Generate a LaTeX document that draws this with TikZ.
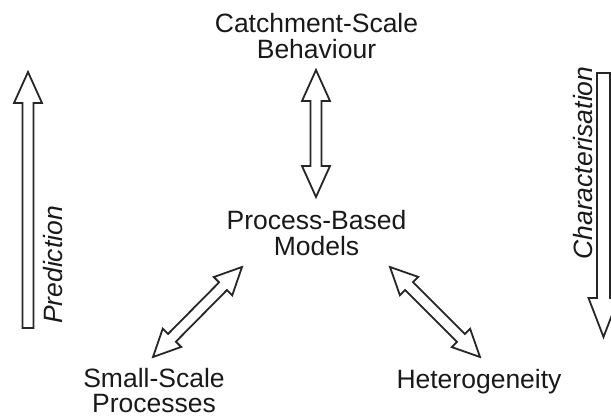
\documentclass[tikz,border=0pt]{standalone}
\usepackage{fontspec}
\setmainfont{Liberation Sans}
\usetikzlibrary{calc}

% hollow block arrows between two named points
\def\hl{31pt}\def\hw{14pt}\def\sw{5.5pt}
\newcommand{\twoway}[2]{%
  \draw[blockarrow] (#1) -- ($(#1)!\hl!(#2)!\hw!90:(#2)$) -- ($(#1)!\hl!(#2)!\sw!90:(#2)$)
    -- ($(#2)!\hl!(#1)!\sw!-90:(#1)$) -- ($(#2)!\hl!(#1)!\hw!-90:(#1)$) -- (#2)
    -- ($(#2)!\hl!(#1)!\hw!90:(#1)$) -- ($(#2)!\hl!(#1)!\sw!90:(#1)$)
    -- ($(#1)!\hl!(#2)!\sw!-90:(#2)$) -- ($(#1)!\hl!(#2)!\hw!-90:(#2)$) -- cycle;}
\newcommand{\oneway}[2]{%
  \draw[blockarrow] ($(#1)!\sw!90:(#2)$) -- ($(#2)!\hl!(#1)!\sw!-90:(#1)$)
    -- ($(#2)!\hl!(#1)!\hw!-90:(#1)$) -- (#2) -- ($(#2)!\hl!(#1)!\hw!90:(#1)$)
    -- ($(#2)!\hl!(#1)!\sw!90:(#1)$) -- ($(#1)!\sw!-90:(#2)$) -- cycle;}

\begin{document}
\begin{tikzpicture}[x=1pt,y=-1pt]
  \tikzset{
    blockarrow/.style={draw=black!85,line width=1.8pt,line join=miter,fill=white},
    every node/.style={inner sep=0pt,text=black!90,align=center,
      font=\fontsize{26.5}{25.5}\selectfont}
  }
  \useasboundingbox (0,0) rectangle (611,417);

  \node (catch) at (316.5,36) {Catchment-Scale\\Behaviour};
  \node (model) at (316.5,233) {Process-Based\\Models};
  \node (small) at (154,390.5) {Small-Scale\\Processes};
  \node[anchor=base] (hetero) at (479,388) {Heterogeneity};
  \node[anchor=base,rotate=90,font=\fontsize{26.5}{25.5}\selectfont\itshape] (pred) at (62,265) {Prediction};
  \node[anchor=base,rotate=90,font=\fontsize{26.5}{25.5}\selectfont\itshape] (char) at (592,163) {Characterisation};

  \coordinate (c1) at (316,70);
  \coordinate (c2) at (316,197);
  \coordinate (s1) at (153,357);
  \coordinate (s2) at (242,267);
  \coordinate (h1) at (390,267);
  \coordinate (h2) at (480,357);
  \coordinate (p1) at (28,328);
  \coordinate (p2) at (28,72);
  \coordinate (k1) at (603.5,73);
  \coordinate (k2) at (603.5,337);

  \twoway{c1}{c2}
  {\def\hl{27pt}\def\hw{13pt}\twoway{s1}{s2}\twoway{h1}{h2}}
  \oneway{p1}{p2}
  {\def\hl{39pt}\def\hw{15pt}\def\sw{6.5pt}\oneway{k1}{k2}}
\end{tikzpicture}
\end{document}
